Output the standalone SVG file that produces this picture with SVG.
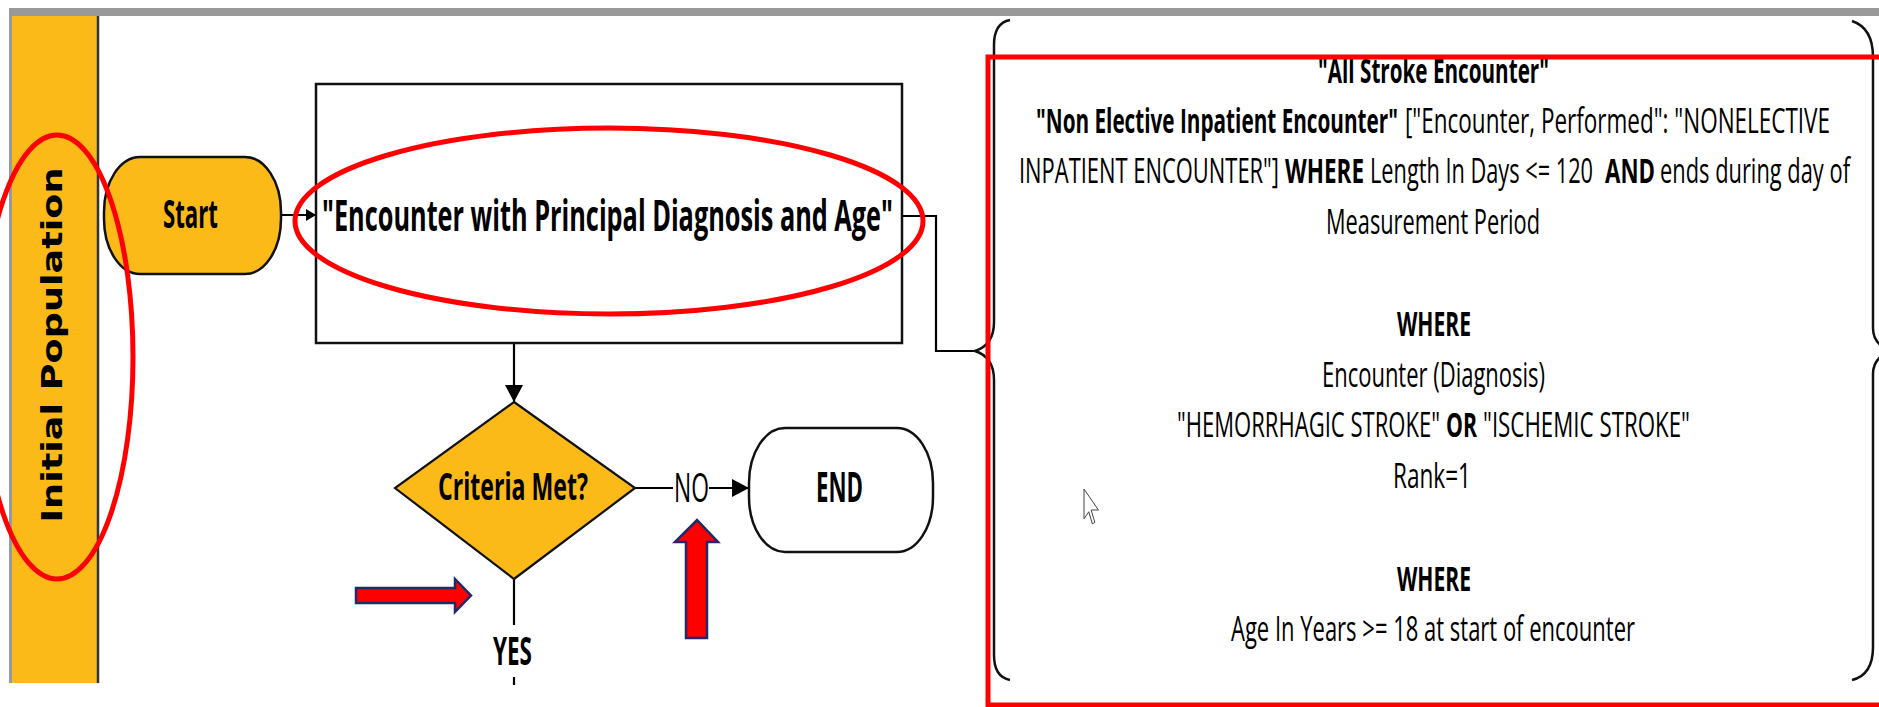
<svg xmlns="http://www.w3.org/2000/svg" width="1879" height="707" viewBox="0 0 1879 707">
  <style>
    .t { font-family: "Open Sans", "Liberation Sans", sans-serif; fill: #000; }
    .b { font-weight: 700; }
    .lane-t { font-family: "DejaVu Sans", Verdana, sans-serif; font-weight: 700; fill: #000; }
    .conn { fill: none; stroke: #000; stroke-width: 2.2; }
    .shape { stroke: #111; stroke-width: 2.5; }
    .gold { fill: #FCBA19; }
    .hl { fill: none; stroke: #FF0000; stroke-width: 5; }
    .blk { fill: #FF0000; stroke: #1F2A6B; stroke-width: 2.5; stroke-linejoin: miter; }
    .brace { fill: none; stroke: #111; stroke-width: 2.5; }
  </style>
  <defs>
    <marker id="arrowS" markerUnits="userSpaceOnUse" viewBox="0 0 10 12" refX="10" refY="6" markerWidth="10" markerHeight="12" orient="auto">
      <path d="M0,0 L10,6 L0,12 Z" fill="#000"/>
    </marker>
    <marker id="arrowL" markerUnits="userSpaceOnUse" viewBox="0 0 17 18" refX="17" refY="9" markerWidth="17" markerHeight="18" orient="auto">
      <path d="M0,0 L17,9 L0,18 Z" fill="#000"/>
    </marker>
  </defs>

  <rect width="1879" height="707" fill="#fff"/>

  <!-- swimlane frame -->
  <g id="lane">
    <rect x="9" y="8" width="1870" height="8" fill="#999"/>
    <rect x="9" y="8" width="3" height="675" fill="#999"/>
    <rect x="12" y="16" width="86" height="667" class="gold"/>
    <line x1="98" y1="16" x2="98" y2="683" stroke="#333" stroke-width="2.5"/>
    <text class="lane-t" font-size="28" text-anchor="middle" transform="translate(62,345) rotate(-90)" x="0" y="0" textLength="355" lengthAdjust="spacingAndGlyphs">Initial Population</text>
  </g>

  <!-- connectors -->
  <g id="connectors">
    <path class="conn" d="M281,215 H316" marker-end="url(#arrowS)"/>
    <path class="conn" d="M514,343 V402" marker-end="url(#arrowL)"/>
    <path class="conn" d="M635,488 H673"/>
    <path class="conn" d="M709,488 H749" marker-end="url(#arrowL)"/>
    <path class="conn" d="M514,579 V625"/>
    <path class="conn" d="M514,677 V685"/>
    <path class="conn" d="M902,216 H936 V351 H975"/>
    <text class="t" font-size="40" x="674" y="502" textLength="35" lengthAdjust="spacingAndGlyphs">NO</text>
    <text class="t b" font-size="39" x="493" y="665" textLength="39" lengthAdjust="spacingAndGlyphs">YES</text>
  </g>

  <g id="start">
    <rect x="104" y="157" width="177" height="117" rx="36" ry="55" class="gold shape"/>
    <text class="t b" font-size="39" x="163" y="228" textLength="55" lengthAdjust="spacingAndGlyphs">Start</text>
  </g>

  <g id="encounter">
    <rect x="316" y="84" width="586" height="259" fill="#fff" class="shape"/>
    <text class="t b" font-size="43" x="322" y="231" textLength="571" lengthAdjust="spacingAndGlyphs">"Encounter with Principal Diagnosis and Age"</text>
  </g>

  <g id="criteria">
    <polygon points="514,402 635,488 514,579 395,488" class="gold" stroke="#111" stroke-width="2.2"/>
    <text class="t b" font-size="38" x="438" y="500" textLength="150" lengthAdjust="spacingAndGlyphs">Criteria Met?</text>
  </g>

  <g id="end">
    <rect x="749" y="428" width="184" height="124" rx="36" ry="55" fill="#fff" class="shape"/>
    <text class="t b" font-size="41" x="816" y="502" textLength="47" lengthAdjust="spacingAndGlyphs">END</text>
  </g>

  <g id="definition">
    <path class="brace" d="M1010,20 Q994,23 994,45 L994,322 Q994,345 975,351 Q994,357 994,380 L994,655 Q994,677 1010,680"/>
    <path class="brace" d="M1852,21 Q1873,28 1873,57 L1873,328 Q1873,345 1892,351 Q1873,357 1873,374 L1873,647 Q1873,675 1852,680"/>

    <text class="t b" font-size="34" x="1318" y="83" textLength="231" lengthAdjust="spacingAndGlyphs">"All Stroke Encounter"</text>

    <text class="t b" font-size="34" x="1036" y="133" textLength="362" lengthAdjust="spacingAndGlyphs">"Non Elective Inpatient Encounter"</text>
    <text class="t" font-size="34" x="1405" y="133" textLength="425" lengthAdjust="spacingAndGlyphs">["Encounter, Performed": "NONELECTIVE</text>

    <text class="t" font-size="34" x="1019" y="183" textLength="260" lengthAdjust="spacingAndGlyphs">INPATIENT ENCOUNTER"]</text>
    <text class="t b" font-size="34" x="1285" y="183" textLength="79" lengthAdjust="spacingAndGlyphs">WHERE</text>
    <text class="t" font-size="34" x="1370" y="183" textLength="223" lengthAdjust="spacingAndGlyphs">Length In Days &lt;= 120</text>
    <text class="t b" font-size="34" x="1605" y="183" textLength="50" lengthAdjust="spacingAndGlyphs">AND</text>
    <text class="t" font-size="34" x="1660" y="183" textLength="190" lengthAdjust="spacingAndGlyphs">ends during day of</text>

    <text class="t" font-size="34" x="1326" y="234" textLength="214" lengthAdjust="spacingAndGlyphs">Measurement Period</text>

    <text class="t b" font-size="34" x="1397" y="336" textLength="74" lengthAdjust="spacingAndGlyphs">WHERE</text>
    <text class="t" font-size="34" x="1322" y="387" textLength="223" lengthAdjust="spacingAndGlyphs">Encounter (Diagnosis)</text>

    <text class="t" font-size="34" x="1177" y="437" textLength="263" lengthAdjust="spacingAndGlyphs">"HEMORRHAGIC STROKE"</text>
    <text class="t b" font-size="34" x="1446" y="437" textLength="31" lengthAdjust="spacingAndGlyphs">OR</text>
    <text class="t" font-size="34" x="1483" y="437" textLength="207" lengthAdjust="spacingAndGlyphs">"ISCHEMIC STROKE"</text>

    <text class="t" font-size="34" x="1393" y="488" textLength="78" lengthAdjust="spacingAndGlyphs">Rank=1</text>

    <text class="t b" font-size="34" x="1397" y="591" textLength="74" lengthAdjust="spacingAndGlyphs">WHERE</text>
    <text class="t" font-size="34" x="1231" y="641" textLength="404" lengthAdjust="spacingAndGlyphs">Age In Years &gt;= 18 at start of encounter</text>

    <!-- mouse pointer -->
    <polygon points="0,0 0,17 4,13 7,20 9,19 6,12 12,12" transform="translate(1084,489) scale(1.2,1.75)" fill="#fff" stroke="#444" stroke-width="1" vector-effect="non-scaling-stroke"/>
  </g>

  <!-- highlight marks -->
  <g id="highlights">
    <ellipse cx="57" cy="357" rx="76" ry="222" class="hl" stroke-width="4"/>
    <ellipse cx="609" cy="221" rx="314" ry="93" class="hl"/>
    <rect x="988" y="57" width="900" height="648" class="hl"/>
    <polygon class="blk" points="356,588 455,588 455,579 471,595.5 455,612 455,603 356,603"/>
    <polygon class="blk" points="686,638 686,542 675,542 697,520 718,542 707,542 707,638"/>
  </g>
</svg>
